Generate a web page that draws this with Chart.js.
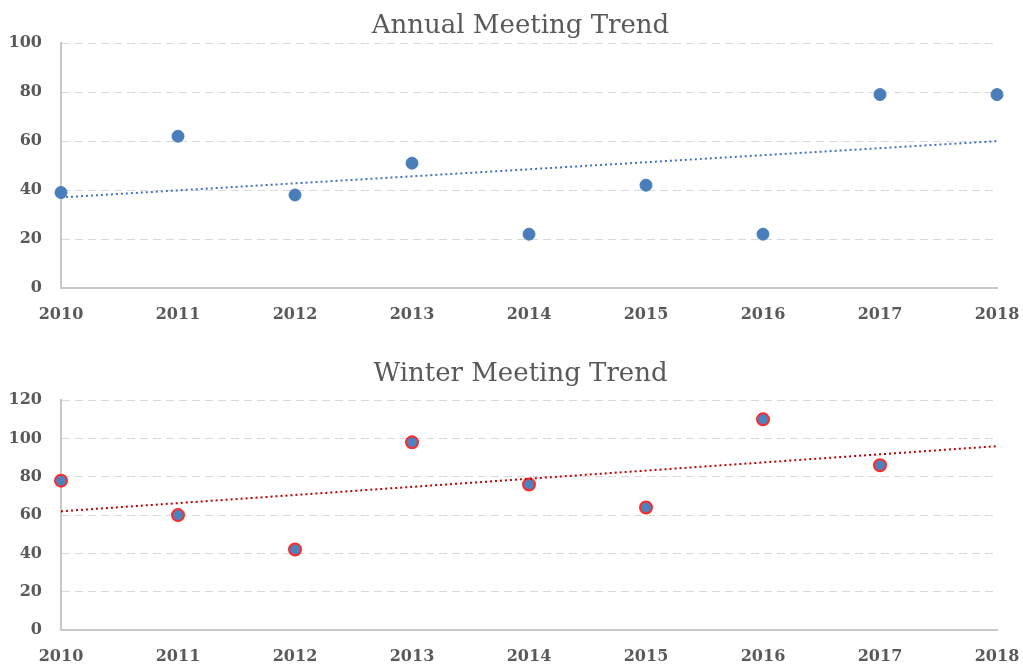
<!DOCTYPE html>
<html>
<head>
<meta charset="utf-8">
<script src="https://cdn.jsdelivr.net/npm/chart.js@4"></script>
<style>
  html, body { margin: 0; padding: 0; background: #fff; }
  .box { position: absolute; left: 0; width: 1023px; }
  #top { top: 0; height: 330px; }
  #bottom { top: 340px; height: 325px; }
</style>
</head>
<body>
<div class="box" id="top"><canvas id="c1"></canvas></div>
<div class="box" id="bottom"><canvas id="c2"></canvas></div>
<script>
const years = [2010, 2011, 2012, 2013, 2014, 2015, 2016, 2017, 2018];
const annualValues = [39, 62, 38, 51, 22, 42, 22, 79, 79];
const winterValues = [78, 60, 42, 98, 76, 64, 110, 86];
// trend line ends (2010 and 2018)
const annualTrend = [37, 60];
const winterTrend = [62, 96];
const annualMax = 100;
const winterMax = 120;

const textColor = "#595959";

// the title in the picture sits a little right of the canvas centre
const shiftTitle = {
  id: "shiftTitle",
  afterLayout(chart) {
    if (chart.titleBlock) {
      chart.titleBlock.left += 9;
      chart.titleBlock.right += 9;
    }
  },
};

function makeChart(canvas, opts) {
  const points = opts.values.map((v, i) => ({ x: years[i], y: v }));
  const trend = [
    { x: years[0], y: opts.trend[0] },
    { x: years[years.length - 1], y: opts.trend[1] },
  ];
  return new Chart(canvas, {
    type: "scatter",
    data: {
      datasets: [
        {
          data: trend,
          showLine: true,
          pointRadius: 0,
          borderColor: opts.trendColor,
          borderWidth: 2,
          borderDash: [2, 3],
          clip: false,
        },
        {
          data: points,
          pointRadius: 6,
          pointBackgroundColor: opts.pointColor,
          pointBorderColor: opts.pointBorder,
          pointBorderWidth: opts.pointBorderWidth,
          clip: false,
        },
      ],
    },
    plugins: [shiftTitle],
    options: {
      responsive: true,
      maintainAspectRatio: false,
      animation: false,
      layout: { padding: 0 },
      plugins: {
        legend: { display: false },
        tooltip: { enabled: false },
        title: {
          display: true,
          text: opts.title,
          color: textColor,
          font: { family: "DejaVu Serif", size: 26, weight: "normal" },
          padding: opts.titlePadding,
        },
      },
      scales: {
        x: {
          type: "linear",
          min: years[0],
          max: years[years.length - 1],
          grid: { display: false },
          border: { display: true, color: "#c8c8c8", width: 2 },
          ticks: {
            stepSize: 1,
            color: textColor,
            padding: 9,
            font: { family: "DejaVu Serif", size: 16, weight: "bold" },
            callback: (v) => String(v),
          },
          afterFit: (s) => {
            s.height = opts.xHeight;
            s.paddingRight = 26;
            s.paddingLeft = 0;
          },
        },
        y: {
          min: 0,
          max: opts.max,
          grid: { color: "#d9d9d9", lineWidth: 1, drawTicks: false },
          border: { display: true, color: "#c8c8c8", width: 2, dash: [8, 5] },
          ticks: {
            stepSize: 20,
            color: textColor,
            padding: 19,
            font: { family: "DejaVu Serif", size: 16, weight: "bold" },
          },
          afterFit: (s) => { s.width = 61; },
        },
      },
    },
  });
}

makeChart(document.getElementById("c1"), {
  title: "Annual Meeting Trend",
  values: annualValues,
  trend: annualTrend,
  max: annualMax,
  trendColor: "#4472c4",
  pointColor: "#4a7ebb",
  pointBorder: "#4a7ebb",
  pointBorderWidth: 1,
  titlePadding: { top: 11, bottom: 1 },
  xHeight: 42,
});

makeChart(document.getElementById("c2"), {
  title: "Winter Meeting Trend",
  values: winterValues,
  trend: winterTrend,
  max: winterMax,
  trendColor: "#c00000",
  pointColor: "#4f81bd",
  pointBorder: "#ff2a2a",
  pointBorderWidth: 2,
  titlePadding: { top: 19, bottom: 10 },
  xHeight: 35,
});
</script>
</body>
</html>
